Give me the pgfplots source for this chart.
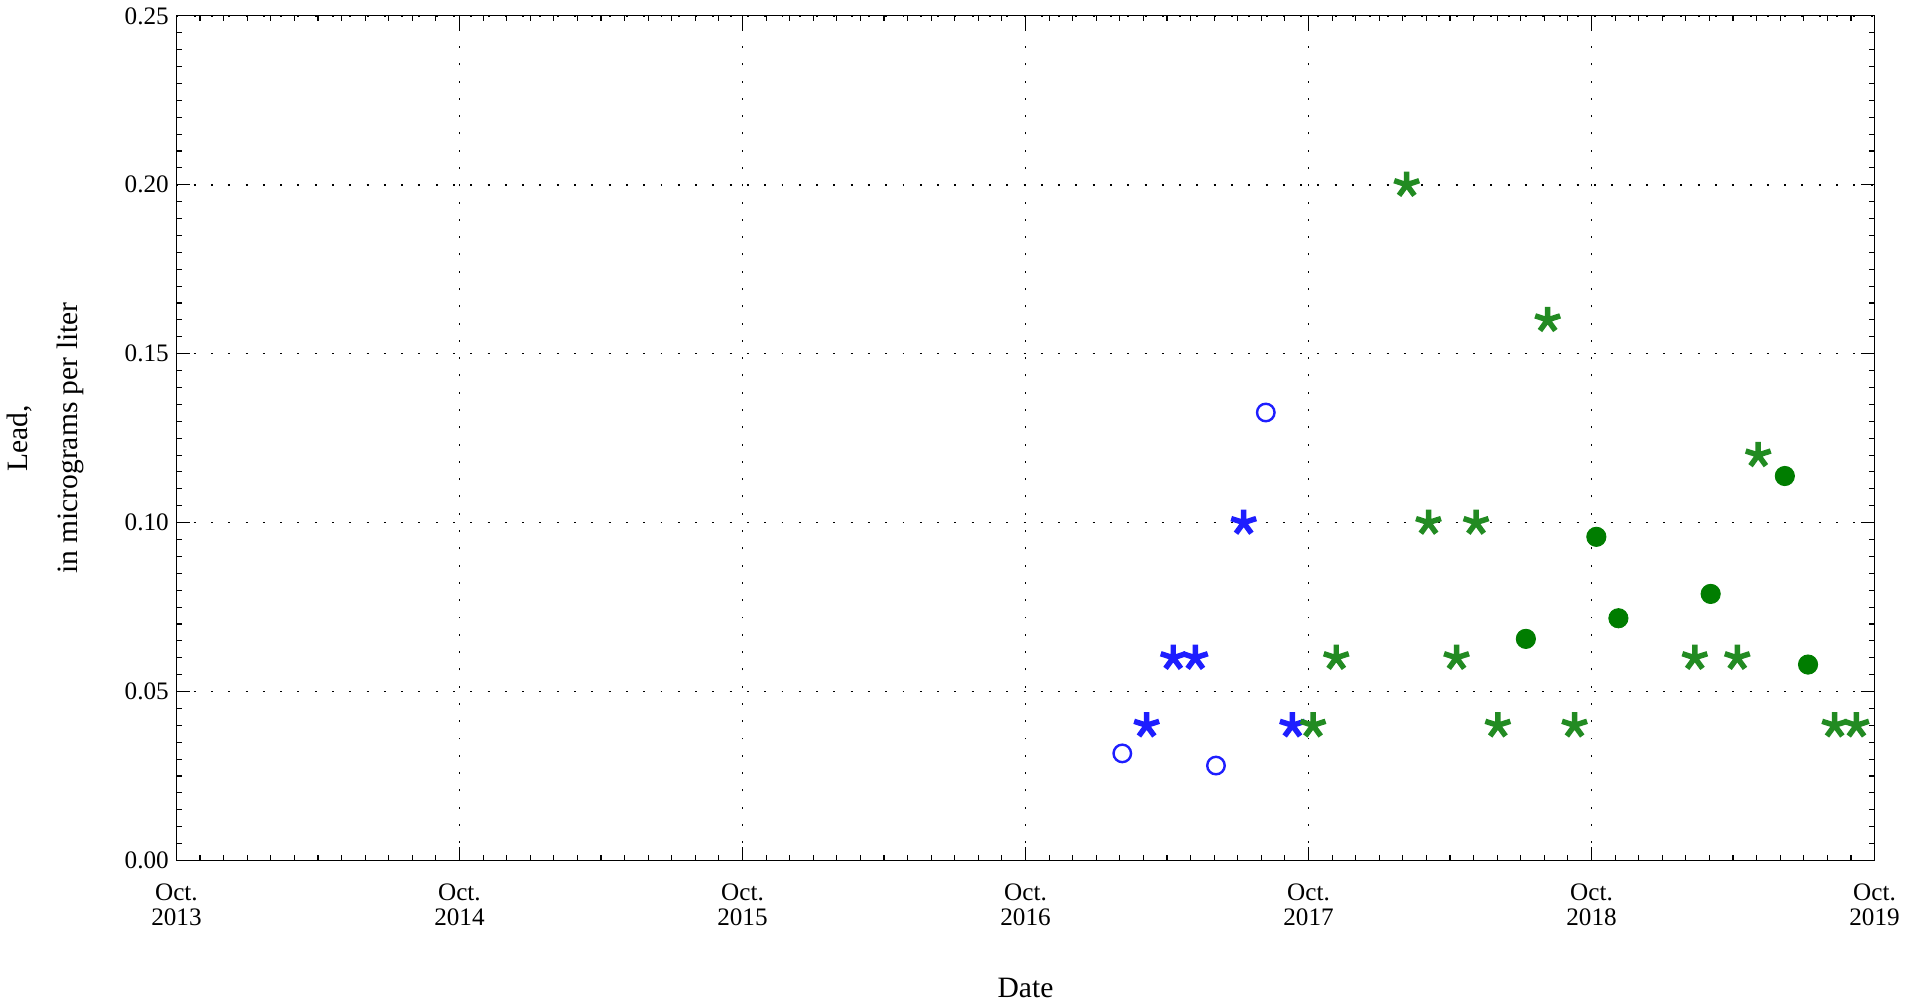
\documentclass[border=0pt]{standalone}
\usepackage{fontspec}
\setmainfont{Liberation Serif}
\usepackage{pgfplots}
\pgfplotsset{compat=1.18}
\definecolor{cblue}{RGB}{30,30,255}
\definecolor{cgreenstar}{RGB}{34,139,34}
\definecolor{cgreendot}{RGB}{0,125,0}
\begin{document}
\begin{tikzpicture}
\begin{axis}[
  width=776pt, height=386pt, scale only axis,
  xmin=0, xmax=6, ymin=0, ymax=0.25,
  xtick={0,1,2,3,4,5,6},
  xticklabels={Oct.\\2013,Oct.\\2014,Oct.\\2015,Oct.\\2016,Oct.\\2017,Oct.\\2018,Oct.\\2019},
  xticklabel style={align=center, font=\fontsize{11.5}{11.5}\selectfont, yshift=-7pt},
  ytick={0,0.05,0.10,0.15,0.20,0.25},
  yticklabel style={font=\fontsize{11.5}{13}\selectfont, /pgf/number format/.cd, fixed, fixed zerofill, precision=2},
  /pgf/number format/assume math mode=true,
  minor x tick num=11, minor y tick num=9,
  tick align=inside,
  major tick length=6pt, minor tick length=2.5pt,
  tick style={black, line width=0.5pt},
  grid=major,
  major grid style={black, line width=0.7pt, dash pattern=on 0.9pt off 7pt},
  axis line style={black, line width=0.6pt},
  xlabel={Date},
  xlabel style={font=\fontsize{13.5}{16}\selectfont, yshift=-17pt},
  ylabel={Lead,\\in micrograms per liter},
  ylabel style={align=center, font=\fontsize{13.5}{22.5}\selectfont, yshift=12pt},
  clip=false,
]
% blue open circles
\addplot[only marks, mark=o, mark size=4pt, cblue, line width=1.1pt] coordinates {
(3.342,0.0317) (3.673,0.0281) (3.849,0.1326)};
% blue asterisks
\addplot[only marks, mark=star, mark size=6pt, cblue, line width=2.5pt] coordinates {
(3.428,0.04) (3.522,0.06) (3.600,0.06) (3.771,0.10) (3.943,0.04)};
% green asterisks
\addplot[only marks, mark=star, mark size=6pt, cgreenstar, line width=2.5pt] coordinates {
(4.016,0.04) (4.098,0.06) (4.347,0.20) (4.424,0.10) (4.523,0.06) (4.592,0.10)
(4.669,0.04) (4.845,0.16) (4.940,0.04) (5.365,0.06) (5.515,0.06) (5.589,0.12)
(5.859,0.04) (5.936,0.04)};
% green filled circles
\addplot[only marks, mark=*, mark size=4.4pt, cgreendot, draw=cgreendot] coordinates {
(4.768,0.0656) (5.017,0.0958) (5.095,0.0717) (5.421,0.0789) (5.683,0.1138) (5.765,0.0580)};
\end{axis}
\end{tikzpicture}
\end{document}
